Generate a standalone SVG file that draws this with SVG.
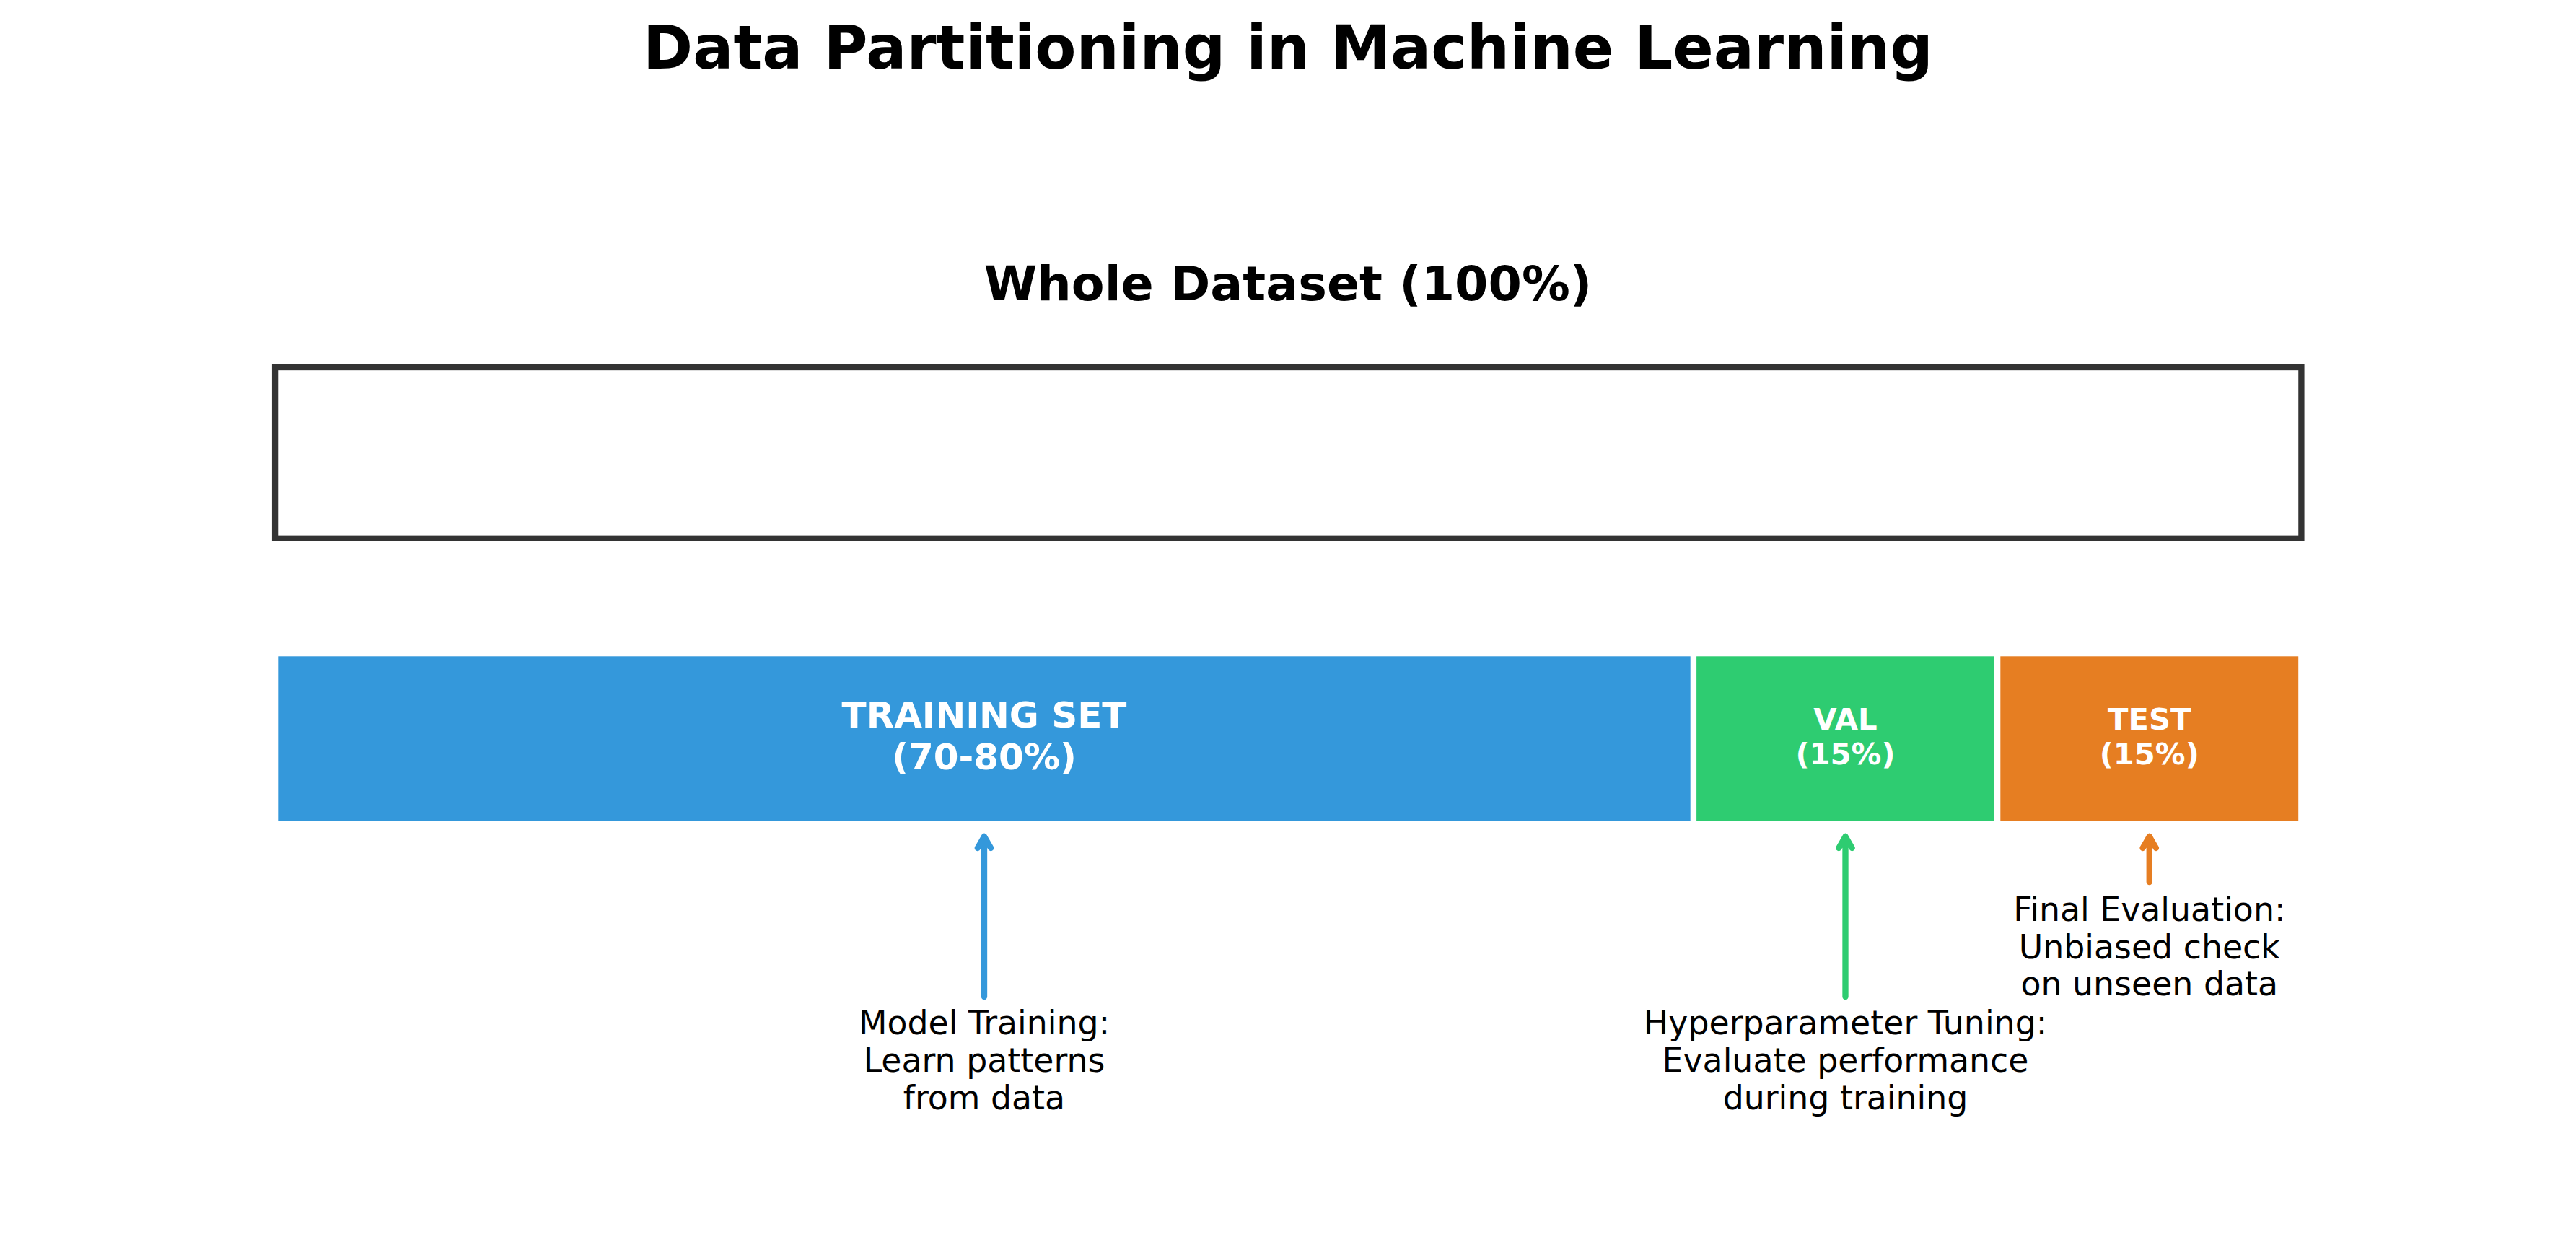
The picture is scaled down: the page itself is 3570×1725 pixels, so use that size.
<svg xmlns="http://www.w3.org/2000/svg" width="3570" height="1725" viewBox="0 0 3570 1725">
<style>
text{font-family:"DejaVu Sans","Liberation Sans",sans-serif;text-anchor:middle}
.title{font-size:83.3px;font-weight:bold;fill:#000}
.sub{font-size:66.7px;font-weight:bold;fill:#000}
.big{font-size:50px;font-weight:bold;fill:#fff}
.small{font-size:41.7px;font-weight:bold;fill:#fff}
.note{font-size:45.8px;fill:#000}
.arr{fill:none;stroke-width:8.33;stroke-linecap:round;stroke-linejoin:round}
</style>
<rect width="3570" height="1725" fill="#fff"/>
<text class="title" x="1785" y="95">Data Partitioning in Machine Learning</text>
<g id="whole">
<text class="sub" x="1785" y="416">Whole Dataset (100%)</text>
<rect x="381.1" y="509" width="2808.3" height="236.8" fill="none" stroke="#333333" stroke-width="8.33"/>
</g>
<g id="train">
<rect x="385.3" y="909.3" width="1957.4" height="228" fill="#3498db"/>
<text class="big" x="1364" y="1008"><tspan x="1364">TRAINING SET</tspan><tspan x="1364" y="1066">(70-80%)</tspan></text>
</g>
<g id="val">
<rect x="2351.1" y="909.3" width="412.8" height="228" fill="#2ecc71"/>
<text class="small" x="2557.5" y="1011"><tspan x="2557.5">VAL</tspan><tspan x="2557.5" y="1059.3">(15%)</tspan></text>
</g>
<g id="test">
<rect x="2772.3" y="909.3" width="412.9" height="228" fill="#e67e22"/>
<text class="small" x="2978.75" y="1011"><tspan x="2978.75">TEST</tspan><tspan x="2978.75" y="1059.3">(15%)</tspan></text>
</g>
<g id="note-train">
<text class="note" x="1364" y="1432.5"><tspan x="1364">Model Training:</tspan><tspan x="1364" y="1484.7">Learn patterns</tspan><tspan x="1364" y="1536.5">from data</tspan></text>
</g>
<g id="note-val">
<text class="note" x="2557.5" y="1432.5"><tspan x="2557.5">Hyperparameter Tuning:</tspan><tspan x="2557.5" y="1484.7">Evaluate performance</tspan><tspan x="2557.5" y="1536.5">during training</tspan></text>
</g>
<g id="note-test">
<text class="note" x="2978.75" y="1276"><tspan x="2978.75">Final Evaluation:</tspan><tspan x="2978.75" y="1327.5">Unbiased check</tspan><tspan x="2978.75" y="1379">on unseen data</tspan></text>
</g>
<g id="connectors">
<path class="arr" stroke="#3498db" d="M1364 1381 V1159 M1354.8 1175 L1364 1159 L1373.2 1175"/>
<path class="arr" stroke="#2ecc71" d="M2557.5 1381 V1159 M2548.3 1175 L2557.5 1159 L2566.7 1175"/>
<path class="arr" stroke="#e67e22" d="M2978.75 1222 V1159 M2969.55 1175 L2978.75 1159 L2987.95 1175"/>
</g>
</svg>
